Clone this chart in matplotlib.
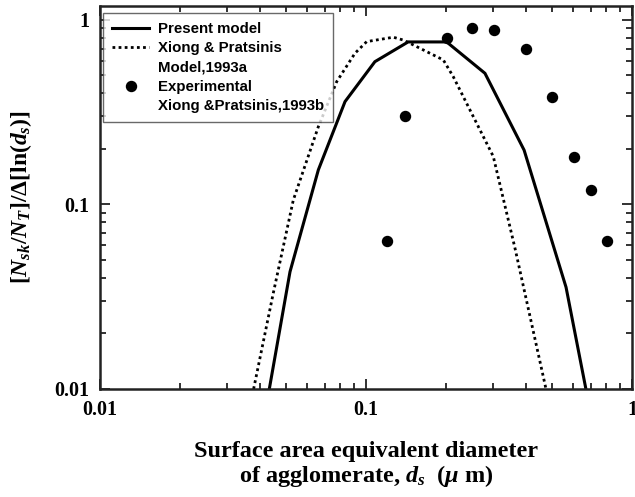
import matplotlib
matplotlib.use("Agg")
import matplotlib.pyplot as plt
from matplotlib.lines import Line2D
from matplotlib.ticker import LogLocator, FixedLocator, FixedFormatter, NullFormatter

# ---- data ----
present_x = [0.0433, 0.0518, 0.0662, 0.0834, 0.108, 0.144, 0.201, 0.280, 0.393, 0.565, 0.671]
present_y = [0.0100, 0.0432, 0.154, 0.361, 0.594, 0.760, 0.760, 0.514, 0.197, 0.0356, 0.0100]

xiong_x = [0.0378, 0.0448, 0.0533, 0.0662, 0.0776, 0.0909, 0.1006, 0.1267, 0.1377, 0.1506,
           0.1953, 0.2128, 0.301, 0.363, 0.475]
xiong_y = [0.0100, 0.0330, 0.1057, 0.264, 0.463, 0.660, 0.763, 0.806, 0.779, 0.732,
           0.607, 0.493, 0.182, 0.0581, 0.0100]

exp_x = [0.120, 0.140, 0.201, 0.250, 0.302, 0.400, 0.500, 0.604, 0.701, 0.805]
exp_y = [0.0637, 0.302, 0.802, 0.905, 0.883, 0.699, 0.382, 0.181, 0.120, 0.0637]

tick_vals = [0.01, 0.1, 1]
tick_labels = ["0.01", "0.1", "1"]

legend_labels = ["Present model", "Xiong & Pratsinis", "Model,1993a",
                 "Experimental", "Xiong &Pratsinis,1993b"]

# ---- style ----
plt.rcParams["mathtext.fontset"] = "custom"
plt.rcParams["mathtext.rm"] = "Liberation Serif:bold"
plt.rcParams["mathtext.it"] = "Liberation Serif:italic:bold"
plt.rcParams["mathtext.bf"] = "Liberation Serif:bold"

fig = plt.figure(figsize=(6.35, 4.97), dpi=100)
ax = fig.add_axes([100/635, 1-389/497, 532/635, 383/497])

ax.plot(present_x, present_y, color="black", lw=2.2, solid_joinstyle="miter")
ax.plot(xiong_x, xiong_y, color="black", lw=2.0, linestyle=(0, (1, 1.2)))
ax.plot(exp_x, exp_y, linestyle="none", marker="o", color="black", markersize=7.2)

ax.set_xscale("log")
ax.set_yscale("log")
ax.set_xlim(0.01, 1)
ax.set_ylim(0.01, 1.19)

for axis in (ax.xaxis, ax.yaxis):
    axis.set_major_locator(FixedLocator(tick_vals))
    axis.set_major_formatter(FixedFormatter(tick_labels))
    axis.set_minor_locator(LogLocator(base=10, subs=range(2, 10)))
    axis.set_minor_formatter(NullFormatter())

ax.tick_params(which="both", direction="in", top=True, right=True, width=1.3, color="#222222")
ax.tick_params(which="major", length=7, pad=8)
ax.tick_params(which="minor", length=4)
for lab in ax.get_xticklabels() + ax.get_yticklabels():
    lab.set_fontfamily("Liberation Serif")
    lab.set_fontweight("bold")
    lab.set_fontsize(14.5)
for s in ax.spines.values():
    s.set_linewidth(1.8)
    s.set_color("#222222")

ax.set_xlabel("Surface area equivalent diameter\nof agglomerate, $d_s$  ($\\mu$ m)",
              fontfamily="Liberation Serif", fontweight="bold", fontsize=17.5,
              linespacing=1.05, labelpad=15)
ax.set_ylabel("$[N_{sk}/N_T]/\\Delta[\\mathrm{ln}(d_s)]$",
              fontfamily="Liberation Serif", fontsize=17, labelpad=14)

handles = [
    Line2D([], [], color="black", lw=2.2),
    Line2D([], [], color="black", lw=2.0, linestyle=(0, (1, 1.2))),
    Line2D([], [], linestyle="none"),
    Line2D([], [], linestyle="none", marker="o", color="black", markersize=7.2),
    Line2D([], [], linestyle="none"),
]
leg = ax.legend(handles, legend_labels, loc="upper left", bbox_to_anchor=(0.0056, 0.982),
                borderaxespad=0, frameon=True, fancybox=False, edgecolor="#444444",
                handlelength=2.5, handletextpad=0.55, labelspacing=0.36,
                borderpad=0.6, prop={"family": "Liberation Sans", "weight": "bold", "size": 10.8})
leg.get_frame().set_linewidth(1.0)

fig.savefig("out.png", dpi=100)
